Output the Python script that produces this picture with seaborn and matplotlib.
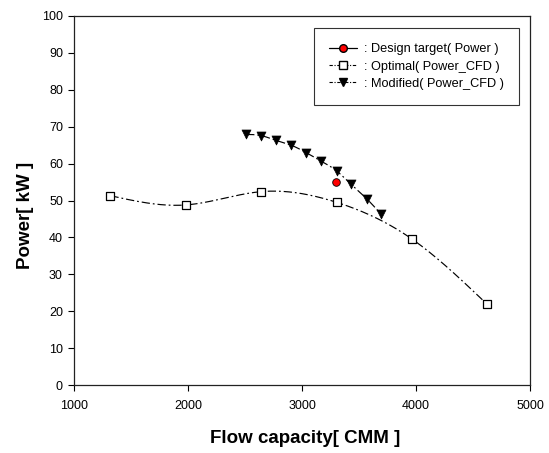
import numpy as np
import pandas as pd
import matplotlib
matplotlib.use("Agg")
import matplotlib.pyplot as plt
from matplotlib.lines import Line2D
import seaborn as sns

# ---- data ----
design_x = [3300]
design_y = [55.1]

optimal_x = [1320, 1980, 2640, 3305, 3963, 4620]
optimal_y = [51.3, 48.8, 52.4, 49.5, 39.6, 22.0]

modified_x = [2510, 2640, 2772, 2904, 3035, 3167, 3304, 3430, 3570, 3693]
modified_y = [67.9, 67.6, 66.3, 65.0, 63.0, 60.7, 58.0, 54.4, 50.4, 46.3]

xticks = [1000, 2000, 3000, 4000, 5000]
yticks = [0, 10, 20, 30, 40, 50, 60, 70, 80, 90, 100]


def natural_spline(x, y, n=300):
    """Smooth display curve through the data points (natural cubic spline)."""
    x = np.asarray(x, float)
    y = np.asarray(y, float)
    k = len(x)
    h = np.diff(x)
    A = np.zeros((k, k))
    b = np.zeros(k)
    A[0, 0] = A[-1, -1] = 1
    for i in range(1, k - 1):
        A[i, i - 1] = h[i - 1]
        A[i, i] = 2 * (h[i - 1] + h[i])
        A[i, i + 1] = h[i]
        b[i] = 6 * ((y[i + 1] - y[i]) / h[i] - (y[i] - y[i - 1]) / h[i - 1])
    M = np.linalg.solve(A, b)
    xs = np.linspace(x[0], x[-1], n)
    idx = np.clip(np.searchsorted(x, xs) - 1, 0, k - 2)
    x0, x1 = x[idx], x[idx + 1]
    hh = x1 - x0
    t0 = x1 - xs
    t1 = xs - x0
    ys = (M[idx] * t0 ** 3 / (6 * hh) + M[idx + 1] * t1 ** 3 / (6 * hh)
          + (y[idx] / hh - M[idx] * hh / 6) * t0
          + (y[idx + 1] / hh - M[idx + 1] * hh / 6) * t1)
    return xs, ys


sns.set_style("ticks")
plt.rcParams["font.family"] = ["Liberation Sans", "DejaVu Sans"]
plt.rcParams["text.color"] = "black"
plt.rcParams["axes.labelcolor"] = "black"

fig = plt.figure(figsize=(5.49, 4.53), dpi=100)
ax = fig.add_axes([0.1348, 0.150, 0.8306, 0.8147])

dash = (7, 2.5, 1.5, 2.5)

ox, oy = natural_spline(optimal_x, optimal_y)
mx, my = natural_spline(modified_x, modified_y)

sns.lineplot(x=ox, y=oy, ax=ax, color="black", lw=0.85, sort=False,
             estimator=None)
ax.lines[-1].set_dashes(dash)
sns.lineplot(x=mx, y=my, ax=ax, color="black", lw=0.85, sort=False,
             estimator=None)
ax.lines[-1].set_dashes(dash)

sns.scatterplot(x=optimal_x, y=optimal_y, ax=ax, marker="s", s=34,
                facecolor="white", edgecolor="black", linewidth=0.9, zorder=5)
sns.scatterplot(x=modified_x, y=modified_y, ax=ax, marker="v", s=42,
                color="black", edgecolor="black", linewidth=0.5, zorder=5)
sns.scatterplot(x=design_x, y=design_y, ax=ax, marker="o", s=30,
                color="red", edgecolor="black", linewidth=0.6, zorder=6)

ax.set_xlim(1000, 5000)
ax.set_ylim(0, 100)
ax.set_xticks(xticks)
ax.set_yticks(yticks)
ax.tick_params(axis="both", direction="out", length=4, width=0.8,
               labelsize=9, colors="black", top=False, right=False)
ax.tick_params(axis="x", pad=7)
ax.tick_params(axis="y", pad=4)
for sp in ax.spines.values():
    sp.set_visible(True)
    sp.set_linewidth(0.9)
    sp.set_color("#222222")

ax.set_xlabel("Flow capacity[ CMM ]", fontsize=13.5, fontweight="bold",
              color="black")
ax.set_ylabel("Power[ kW ]", fontsize=13.5, fontweight="bold", color="black")
ax.xaxis.set_label_coords(0.507, -0.122)
ax.yaxis.set_label_coords(-0.088, 0.46)

handles = [
    Line2D([], [], color="black", lw=0.9, marker="o", markersize=5.5,
           markerfacecolor="red", markeredgecolor="black"),
    Line2D([], [], color="black", lw=0.8, dashes=(3, 1.5, 1, 1.5), marker="s",
           markersize=5.5, markerfacecolor="white", markeredgecolor="black"),
    Line2D([], [], color="black", lw=0.8, dashes=(3, 1.5, 1, 1.5), marker="v",
           markersize=6, markerfacecolor="black", markeredgecolor="black"),
]
labels = [": Design target( Power )", ": Optimal( Power_CFD )",
          ": Modified( Power_CFD )"]
leg = ax.legend(handles, labels, loc="upper right", fontsize=9.2,
                frameon=True, fancybox=False, edgecolor="black",
                handlelength=2.2, handletextpad=0.5, labelspacing=0.42,
                borderpad=1.2, borderaxespad=0,
                bbox_to_anchor=(0.976, 0.968))
leg.get_frame().set_linewidth(0.8)
for t in leg.get_texts():
    t.set_color("black")

fig.savefig("out.png", dpi=100)
